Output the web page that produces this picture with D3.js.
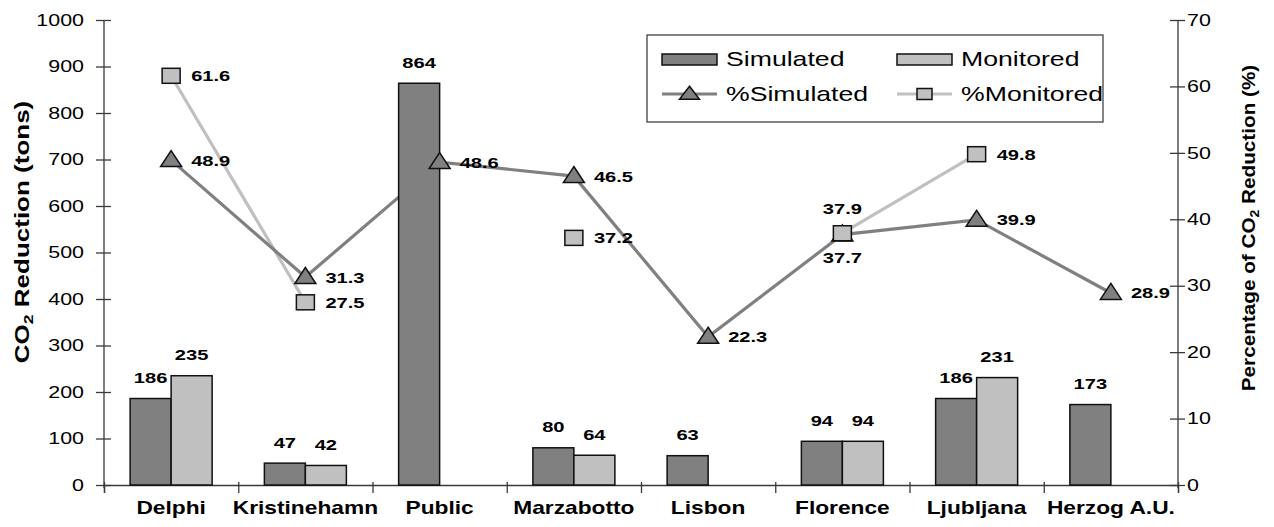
<!DOCTYPE html>
<html><head><meta charset="utf-8">
<script src="https://cdn.jsdelivr.net/npm/d3@7"></script>
<style>body{margin:0;background:#fff} svg{display:block}</style>
</head><body><svg id="c" width="1274" height="527"></svg>
<script>
const categories = ["Delphi","Kristinehamn","Public","Marzabotto","Lisbon","Florence","Ljubljana","Herzog A.U."];
const simulated = [186,47,864,80,63,94,186,173];
const monitored = [235,42,null,64,null,94,231,null];
const pctSimulated = [48.9,31.3,48.6,46.5,22.3,37.7,39.9,28.9];
const pctMonitored = [61.6,27.5,null,37.2,null,37.9,49.8,null];
const leftTicks = [0,100,200,300,400,500,600,700,800,900,1000];
const rightTicks = [0,10,20,30,40,50,60,70];

const SX = 1.3;
const FONT = "'Liberation Sans', Arial, sans-serif";
const C_SIM = "#808080", C_MON = "#c0c0c0";

const svg = d3.select("#c");
const L = 104, R = 1178, T = 20, B = 485;

const x = d3.scaleBand().domain(categories).range([L, R]).padding(0);
const bw = x.bandwidth();
const xs = d3.scaleBand().domain(["sim","mon"]).range([(bw-82)/2, (bw+82)/2]);
const yL = d3.scaleLinear().domain([0,1000]).range([B, T]);
const yR = d3.scaleLinear().domain([0,70]).range([B, T]);
const cx = c => x(c) + bw/2;

function txt(g, px, py, s, o = {}) {
  return g.append("text")
    .attr("transform", `translate(${px},${py}) rotate(${o.rot||0}) scale(${o.sx||SX},1)`)
    .attr("text-anchor", o.anchor || "start")
    .attr("dy", o.dy || "0.35em")
    .style("font-family", FONT)
    .style("font-size", (o.size || 16) + "px")
    .style("font-weight", o.bold ? "bold" : "normal")
    .attr("fill", "#000")
    .text(s);
}

// Axes
const axL = svg.append("g").attr("transform", `translate(${L},0)`)
  .call(d3.axisLeft(yL).tickValues(leftTicks).tickSizeOuter(0).tickSize(8));
axL.selectAll(".tick line").attr("x1", 7).attr("x2", -8);
axL.selectAll(".tick text").remove();
leftTicks.forEach(v => txt(svg, L - 20, yL(v), String(v), {anchor: "end", size: 16.5}));

const axR = svg.append("g").attr("transform", `translate(${R},0)`)
  .call(d3.axisRight(yR).tickValues(rightTicks).tickSizeOuter(0).tickSize(8));
axR.selectAll(".tick line").attr("x1", -8).attr("x2", 7);
axR.selectAll(".tick text").remove();
rightTicks.forEach(v => txt(svg, R + 9, yR(v), String(v), {size: 16.5}));

const idx = d3.scaleLinear().domain([0, categories.length]).range([L, R]);
const axB = svg.append("g").attr("transform", `translate(0,${B})`)
  .call(d3.axisBottom(idx).tickValues(d3.range(categories.length + 1)).tickFormat("").tickSizeOuter(0).tickSize(8));
axB.selectAll(".tick line").attr("y1", -3);

[axL, axR, axB].forEach(a => {
  a.selectAll("path.domain, line").attr("stroke", "#3a3a3a").attr("stroke-width", 1.3);
});
axL.select("path.domain").attr("d", `M0,${T}V${B + 3}`);
axR.select("path.domain").attr("d", `M0,${T}V${B + 3}`);

categories.forEach(c => txt(svg, cx(c), B + 23, c, {anchor: "middle", size: 17.5, bold: true}));

// Axis titles
function title(px, py, rot, parts, size, sx) {
  const t = svg.append("text")
    .attr("transform", `translate(${px},${py}) rotate(${rot}) scale(${sx},1)`)
    .attr("text-anchor", "middle").attr("dy", "0.35em")
    .style("font-family", FONT).style("font-size", size + "px").style("font-weight", "bold");
  t.append("tspan").text(parts[0]);
  t.append("tspan").attr("dy", 4).style("font-size", (size * 0.68) + "px").text("2");
  t.append("tspan").attr("dy", -4).text(parts[1]);
}
title(22, 232, -90, ["CO", " Reduction (tons)"], 20, 1.3);
title(1249, 228, -90, ["Percentage of CO", " Reduction (%)"], 18.5, 1.12);

// Lines (behind bars)
const lineGen = vals => d3.line()
  .defined((d, i) => vals[i] != null)
  .x((d, i) => cx(categories[i]))
  .y((d, i) => yR(vals[i]))(vals);
svg.append("path").attr("d", lineGen(pctMonitored)).attr("fill", "none").attr("stroke", C_MON).attr("stroke-width", 3.2);
svg.append("path").attr("d", lineGen(pctSimulated)).attr("fill", "none").attr("stroke", C_SIM).attr("stroke-width", 3.2);

// Bars
const bars = svg.append("g");
categories.forEach((c, i) => {
  [["sim", simulated[i], C_SIM], ["mon", monitored[i], C_MON]].forEach(([k, v, col]) => {
    if (v == null) return;
    const bx = x(c) + xs(k);
    bars.append("rect").attr("x", bx).attr("y", yL(v)).attr("width", xs.bandwidth()).attr("height", B - yL(v))
      .attr("fill", col).attr("stroke", "#111").attr("stroke-width", 1.5);
    txt(svg, bx + xs.bandwidth() / 2, yL(v) - 21, String(v), {anchor: "middle", size: 15.5, bold: true});
  });
});

// Markers
function tri(g, px, py, w, h) {
  g.append("path").attr("d", `M${px},${py - h * 0.6}L${px + w / 2},${py + h * 0.4}L${px - w / 2},${py + h * 0.4}Z`)
    .attr("fill", C_SIM).attr("stroke", "#111").attr("stroke-width", 1.5);
}
function sq(g, px, py, w, h) {
  g.append("rect").attr("x", px - w / 2).attr("y", py - h / 2).attr("width", w).attr("height", h)
    .attr("fill", C_MON).attr("stroke", "#111").attr("stroke-width", 1.5);
}
const mk = svg.append("g");
const labelPlace = {"sim-Florence": "below", "mon-Florence": "above"};
categories.forEach((c, i) => {
  const v = pctSimulated[i];
  if (v == null) return;
  tri(mk, cx(c), yR(v), 21, 16);
});
categories.forEach((c, i) => {
  const v = pctMonitored[i];
  if (v == null) return;
  sq(mk, cx(c), yR(v), 18, 15);
});
[["sim", pctSimulated], ["mon", pctMonitored]].forEach(([k, vals]) => {
  categories.forEach((c, i) => {
    const v = vals[i];
    if (v == null) return;
    const place = labelPlace[k + "-" + c];
    const px = cx(c), py = yR(v);
    const s = v.toFixed(1);
    if (place === "below") txt(svg, px, py + 23, s, {anchor: "middle", size: 15.5, bold: true});
    else if (place === "above") txt(svg, px, py - 25, s, {anchor: "middle", size: 15.5, bold: true});
    else txt(svg, px + 20, py, s, {size: 15.5, bold: true});
  });
});

// Legend
const lg = svg.append("g");
lg.append("rect").attr("x", 647).attr("y", 35).attr("width", 456).attr("height", 87)
  .attr("fill", "#fff").attr("stroke", "#333").attr("stroke-width", 1.2);
const legendItems = [
  {label: "Simulated", type: "bar", color: C_SIM},
  {label: "Monitored", type: "bar", color: C_MON},
  {label: "%Simulated", type: "tri", color: C_SIM},
  {label: "%Monitored", type: "sq", color: C_MON}
];
legendItems.forEach((d, i) => {
  const lx = i % 2 === 0 ? 662 : 897;
  const ly = i < 2 ? 59 : 94;
  if (d.type === "bar") {
    lg.append("rect").attr("x", lx).attr("y", ly - 5).attr("width", 55).attr("height", 11)
      .attr("fill", d.color).attr("stroke", "#111").attr("stroke-width", 1.5);
  } else {
    lg.append("line").attr("x1", lx).attr("x2", lx + 55).attr("y1", ly).attr("y2", ly)
      .attr("stroke", d.color).attr("stroke-width", 3.2);
    if (d.type === "tri") tri(lg, lx + 27.5, ly, 20, 13);
    else sq(lg, lx + 27.5, ly, 15, 11);
  }
  txt(lg, lx + 64, ly, d.label, {size: 20.5});
});
</script></body></html>
